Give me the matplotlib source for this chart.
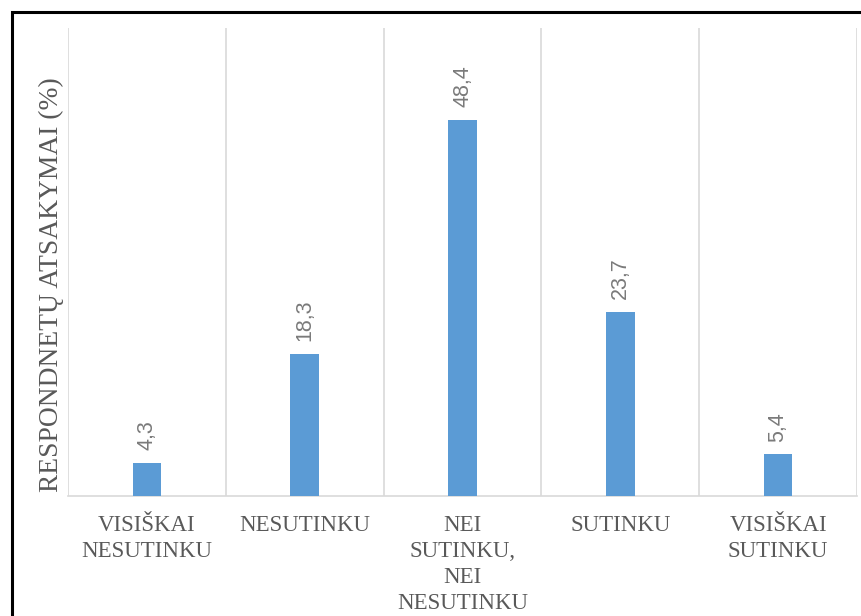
import matplotlib
matplotlib.use("Agg")
import matplotlib.pyplot as plt
from matplotlib.patches import Rectangle

categories = ["VISIŠKAI\nNESUTINKU", "NESUTINKU", "NEI\nSUTINKU,\nNEI\nNESUTINKU",
              "SUTINKU", "VISIŠKAI\nSUTINKU"]
values = [4.3, 18.3, 48.4, 23.7, 5.4]
value_labels = ["4,3", "18,3", "48,4", "23,7", "5,4"]
y_label = "RESPONDNETŲ ATSAKYMAI (%)"

fig = plt.figure(figsize=(8.61, 6.16), dpi=100)
ax = fig.add_axes([68/861, 1-496/616, (857-68)/861, (496-28)/616])

x = list(range(len(categories)))
bars = ax.bar(x, values, width=0.18, color="#5B9BD5", zorder=3)
ax.set_xlim(-0.5, 4.5)
ax.set_ylim(0, 60.2)

for xi, v, lab in zip(x, values, value_labels):
    ax.annotate(lab, (xi, v), xytext=(0, 9), textcoords="offset points",
                rotation=90, ha="center", va="bottom", fontsize=15.5,
                family="Liberation Sans", color="#7a7a7a")

for b in [i - 0.5 for i in range(len(categories) + 1)]:
    ax.axvline(b, color="#d9d9d9", lw=1.2, zorder=1)

for s in ["top", "right", "left"]:
    ax.spines[s].set_visible(False)
ax.spines["bottom"].set_color("#d9d9d9")
ax.spines["bottom"].set_linewidth(1.2)
ax.set_yticks([])
ax.set_xticks(x)
ax.set_xticklabels(categories, family="Liberation Serif", fontsize=16.5,
                   color="#595959", linespacing=1.3)
ax.tick_params(axis="x", length=0, pad=14)

fig.text(51/861, 1-285/616, y_label, rotation=90, ha="center", va="center",
         family="Liberation Serif", fontsize=19.8, color="#595959")

fig.patches.append(Rectangle((11.5/861, -0.1), 2, 1.1 - 11.5/616 + 0.0,
                             transform=fig.transFigure, fill=False,
                             edgecolor="black", lw=2.2))

fig.savefig("out.png", dpi=100)
